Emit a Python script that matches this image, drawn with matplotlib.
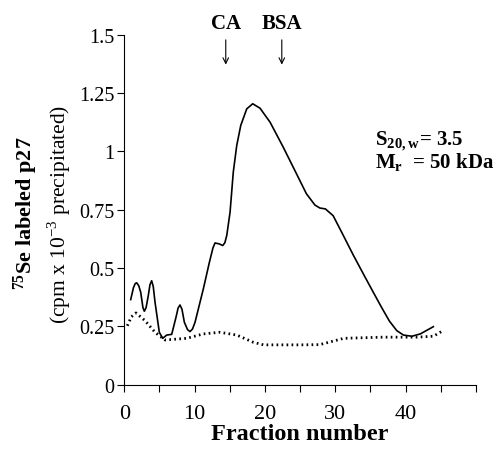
import matplotlib.pyplot as plt
import numpy as np

plt.rcParams['font.family'] = ['Liberation Serif', 'DejaVu Serif']
plt.rcParams['mathtext.fontset'] = 'custom'
plt.rcParams['mathtext.rm'] = 'Liberation Serif'
plt.rcParams['mathtext.bf'] = 'Liberation Serif:bold'

# solid curve: labeled p27 ------------------------
frac_p27 = [0.91, 1.3, 1.55, 1.76, 2.05, 2.33, 2.65, 2.85, 3.1, 3.41, 3.65, 3.89,
            4.12, 4.37, 4.98, 5.46, 6.03, 6.74, 7.35, 7.65, 7.92, 8.2, 8.54, 9.0,
            9.35, 9.7, 10.06, 11.24, 12.1, 12.6, 12.9, 13.5, 14.0, 14.3, 14.57,
            15.04, 15.5, 15.99, 16.56, 17.41, 18.26, 19.3, 20.73, 22.6, 24.5,
            25.9, 27.1, 27.8, 28.6, 29.7, 31.15, 32.6, 34.0, 35.4, 36.6, 37.7,
            38.75, 39.7, 40.9, 42.1, 43.95]
cpm_p27 = [0.364, 0.415, 0.433, 0.436, 0.424, 0.396, 0.33, 0.314, 0.33, 0.381,
           0.428, 0.445, 0.42, 0.353, 0.224, 0.198, 0.212, 0.215, 0.288, 0.328,
           0.341, 0.323, 0.267, 0.235, 0.227, 0.238, 0.267, 0.41, 0.524, 0.585,
           0.607, 0.603, 0.596, 0.608, 0.639, 0.739, 0.911, 1.025, 1.111, 1.182,
           1.204, 1.185, 1.125, 1.018, 0.903, 0.818, 0.77, 0.757, 0.753, 0.724,
           0.639, 0.553, 0.474, 0.396, 0.33, 0.272, 0.231, 0.212, 0.207, 0.217,
           0.248]

# dotted curve: control ---------------------------
frac_ctl = [0.43, 1.0, 1.66, 2.94, 4.37, 5.79, 8.87, 11.24, 13.6, 16.0, 18.35,
            19.8, 22.5, 25.0, 27.8, 31.2, 36.8, 41.6, 43.95, 45.1]
cpm_ctl = [0.252, 0.29, 0.307, 0.274, 0.224, 0.191, 0.198, 0.217, 0.224, 0.212,
           0.181, 0.17, 0.17, 0.17, 0.171, 0.198, 0.203, 0.203, 0.207, 0.227]

xticks = [0, 5, 10, 15, 20, 25, 30, 35, 40, 45, 50]
xticklabels = ['0', '', '10', '', '20', '', '30', '', '40', '', '']
yticks = [0, 0.25, 0.5, 0.75, 1, 1.25, 1.5]
yticklabels = ['0', '0.25', '0.5', '0.75', '1', '1.25', '1.5']

markers = ['CA', 'BSA']
marker_pos = [14.43, 22.4]

fig = plt.figure(figsize=(5.02, 4.56), dpi=100)
ax = fig.add_axes([0.2476, 0.1546, 0.7004, 0.767])

ax.plot(frac_p27, cpm_p27, color='black', lw=1.2)
ax.plot(frac_ctl, cpm_ctl, color='black', lw=2, linestyle=(0, (0.6, 1.2)))

ax.set_xlim(0, 50)
ax.set_ylim(0, 1.5)
ax.spines['top'].set_visible(False)
ax.spines['right'].set_visible(False)
ax.set_xticks(xticks)
ax.set_xticklabels(xticklabels, fontsize=16)
ax.set_yticks(yticks)
ax.set_yticklabels(yticklabels, fontsize=14.5)
ax.tick_params(axis='x', direction='out', length=5, pad=9)
ax.tick_params(axis='y', direction='out', length=5, pad=2)
ax.set_xlabel('Fraction number', fontsize=17.5, fontweight='bold', labelpad=0)

fig.text(0.052, 0.533, r'$\mathbf{^{75}}$Se labeled p27', rotation=90,
         fontsize=16, fontweight='bold', ha='center', va='center')
fig.text(0.118, 0.53, r'(cpm x 10$^{-3}$ precipitated)', rotation=90,
         fontsize=15.5, ha='center', va='center')

for name, xpos in zip(markers, marker_pos):
    ax.annotate('', xy=(xpos, 1.36), xytext=(xpos, 1.49), annotation_clip=False,
                arrowprops=dict(arrowstyle='->', color='black', lw=0.8))
    ax.text(xpos, 1.53, name, fontsize=15, fontweight='bold', ha='center',
            va='baseline', clip_on=False)

ax.text(0.714, 0.688, r'S$_{\mathbf{20,w}}$= 3.5', transform=ax.transAxes,
        fontsize=15, fontweight='bold')
ax.text(0.714, 0.622, r'M$_{\mathbf{r}}$  = 50 kDa', transform=ax.transAxes,
        fontsize=15, fontweight='bold')

plt.savefig('out.png', dpi=100)
